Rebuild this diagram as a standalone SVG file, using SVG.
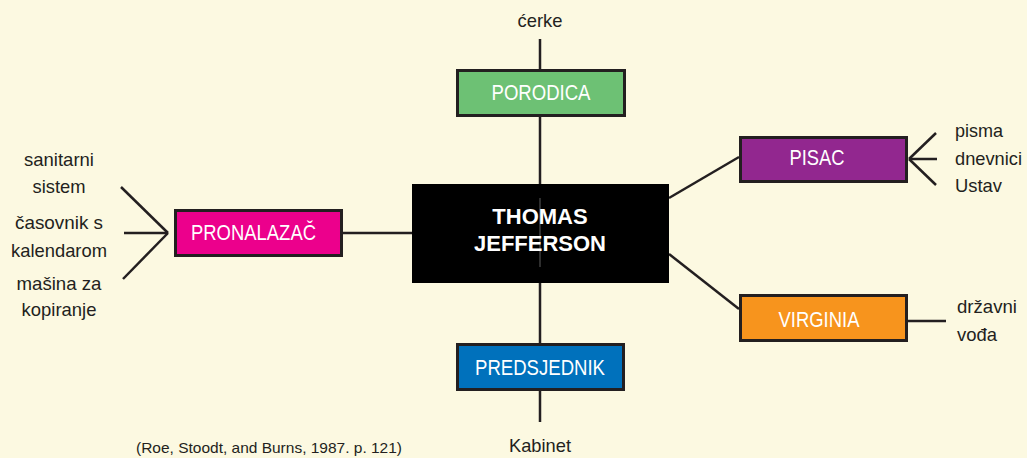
<svg xmlns="http://www.w3.org/2000/svg" width="1027" height="458" viewBox="0 0 1027 458">
  <style>
    .bg { fill: #fcf9e1; }
    .box { stroke: #231f20; stroke-width: 3; }
    .box-label { font-family: "Liberation Sans", Arial, sans-serif; font-size: 22px; fill: #ffffff; text-anchor: middle; }
    .label { font-family: "Liberation Sans", Arial, sans-serif; font-size: 19px; fill: #231f20; }
    .mid { text-anchor: middle; }
    .title { font-family: "Liberation Sans", Arial, sans-serif; font-size: 22px; font-weight: bold; fill: #ffffff; text-anchor: middle; }
    .link { stroke: #231f20; stroke-width: 2.5; fill: none; }
  </style>

  <rect class="bg" x="0" y="0" width="1027" height="458"/>

  <!-- connectors -->
  <g id="connectors">
    <line class="link" x1="540" y1="39" x2="540" y2="69"/>
    <line class="link" x1="540" y1="117" x2="540" y2="184"/>
    <line class="link" x1="540" y1="283" x2="540" y2="343"/>
    <line class="link" x1="540" y1="391" x2="540" y2="422"/>
    <line class="link" x1="343" y1="233" x2="412" y2="233"/>
    <line class="link" x1="121" y1="187" x2="168" y2="233"/>
    <line class="link" x1="124" y1="233" x2="168" y2="233"/>
    <line class="link" x1="123" y1="279" x2="168" y2="233"/>
    <line class="link" x1="669" y1="198" x2="739" y2="157"/>
    <line class="link" x1="909" y1="159" x2="936" y2="133"/>
    <line class="link" x1="909" y1="159" x2="937" y2="159"/>
    <line class="link" x1="909" y1="159" x2="936" y2="185"/>
    <line class="link" x1="669" y1="254" x2="739" y2="309"/>
    <line class="link" x1="908" y1="321" x2="946" y2="321"/>
  </g>

  <!-- central node -->
  <g id="node-jefferson">
    <rect x="412" y="184" width="257" height="99" fill="#000000"/>
    <line x1="540" y1="198" x2="540" y2="267" stroke="#2e2e2e" stroke-width="2"/>
    <text class="title" x="540" y="224">THOMAS</text>
    <text class="title" x="540" y="251">JEFFERSON</text>
  </g>

  <g id="node-porodica">
    <rect class="box" x="457.5" y="70.5" width="167" height="45" fill="#6dc174"/>
    <text class="box-label" x="541" y="100" textLength="99" lengthAdjust="spacingAndGlyphs">PORODICA</text>
  </g>

  <g id="node-pronalazac">
    <rect class="box" x="175.5" y="210.5" width="166" height="45" fill="#ec008c"/>
    <text class="box-label" x="253.5" y="240" textLength="125" lengthAdjust="spacingAndGlyphs">PRONALAZAČ</text>
  </g>

  <g id="node-pisac">
    <rect class="box" x="740.5" y="137.5" width="166" height="44" fill="#92278f"/>
    <text class="box-label" x="817" y="165" textLength="55" lengthAdjust="spacingAndGlyphs">PISAC</text>
  </g>

  <g id="node-virginia">
    <rect class="box" x="740.5" y="295.5" width="166" height="45" fill="#f7941d"/>
    <text class="box-label" x="819" y="327" textLength="81" lengthAdjust="spacingAndGlyphs">VIRGINIA</text>
  </g>

  <g id="node-predsjednik">
    <rect class="box" x="457.5" y="344.5" width="166" height="45" fill="#0071bc"/>
    <text class="box-label" x="540" y="375" textLength="130" lengthAdjust="spacingAndGlyphs">PREDSJEDNIK</text>
  </g>

  <!-- leaf labels -->
  <g id="leaf-cerke"><text class="label mid" x="540" y="27" textLength="45" lengthAdjust="spacingAndGlyphs">ćerke</text></g>
  <g id="leaf-kabinet"><text class="label mid" x="540" y="452" textLength="62" lengthAdjust="spacingAndGlyphs">Kabinet</text></g>

  <g id="leaf-inventions">
    <text class="label mid" x="59" y="166" textLength="70" lengthAdjust="spacingAndGlyphs">sanitarni</text>
    <text class="label mid" x="59" y="193" textLength="53" lengthAdjust="spacingAndGlyphs">sistem</text>
    <text class="label mid" x="59" y="229" textLength="88" lengthAdjust="spacingAndGlyphs">časovnik s</text>
    <text class="label mid" x="59" y="257" textLength="96" lengthAdjust="spacingAndGlyphs">kalendarom</text>
    <text class="label mid" x="59" y="290" textLength="85" lengthAdjust="spacingAndGlyphs">mašina za</text>
    <text class="label mid" x="59" y="316" textLength="75" lengthAdjust="spacingAndGlyphs">kopiranje</text>
  </g>

  <g id="leaf-writings">
    <text class="label" x="955" y="137" textLength="48" lengthAdjust="spacingAndGlyphs">pisma</text>
    <text class="label" x="955" y="165" textLength="67" lengthAdjust="spacingAndGlyphs">dnevnici</text>
    <text class="label" x="955" y="192" textLength="47" lengthAdjust="spacingAndGlyphs">Ustav</text>
  </g>

  <g id="leaf-state">
    <text class="label" x="957" y="313" textLength="60" lengthAdjust="spacingAndGlyphs">državni</text>
    <text class="label" x="957" y="341" textLength="40" lengthAdjust="spacingAndGlyphs">vođa</text>
  </g>

  <text x="136" y="453" font-family="Liberation Sans, Arial, sans-serif" font-size="15" fill="#231f20" textLength="266" lengthAdjust="spacingAndGlyphs">(Roe, Stoodt, and Burns, 1987. p. 121)</text>
</svg>
